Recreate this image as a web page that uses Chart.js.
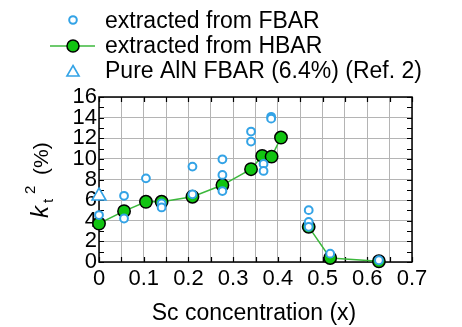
<!DOCTYPE html>
<html><head><meta charset="utf-8">
<style>html,body{margin:0;padding:0;background:#fff;}#wrap{width:462px;height:327px;}</style>
<script src="https://cdn.jsdelivr.net/npm/chart.js@4/dist/chart.umd.min.js"></script>
</head><body><div id="wrap"><canvas id="c" width="462" height="327"></canvas></div>
<script>
// ---- data ----
const fbarX = [0, 0.056, 0.056, 0.105, 0.14, 0.14, 0.209, 0.209, 0.276, 0.276, 0.276, 0.34, 0.34, 0.368, 0.368, 0.385, 0.385, 0.469, 0.469, 0.469, 0.517, 0.626];
const fbarY = [4.55, 6.42, 4.22, 8.11, 5.68, 5.29, 9.25, 6.56, 9.96, 8.44, 6.88, 12.65, 11.68, 9.51, 8.83, 14.08, 13.9, 5.03, 3.89, 3.41, 0.81, 0.17];
const hbarX = [0, 0.056, 0.105, 0.14, 0.209, 0.276, 0.34, 0.365, 0.386, 0.407, 0.44, 0.469, 0.517, 0.626];
const hbarY = [3.73, 4.93, 5.84, 5.84, 6.33, 7.46, 9.0, 10.29, 10.22, 12.07, null, 3.41, 0.39, 0.07];
const refX = [0];
const refY = [6.4];
const xTickLabels = ['0', '0.1', '0.2', '0.3', '0.4', '0.5', '0.6', '0.7'];
const yTickLabels = ['0', '2', '4', '6', '8', '10', '12', '14', '16'];
const legendLabels = ['extracted from FBAR', 'extracted from HBAR', 'Pure AlN FBAR (6.4%) (Ref. 2)'];
const xTitle = 'Sc concentration (x)';

const BLUE = '#33a3e6', GREEN = '#11c411', LINEG = '#3cb83c';
const FONT = '"Liberation Sans", Arial, sans-serif';

const pts = (xs, ys) => xs.map((x, i) => ({x: x, y: ys[i]}));

const deco = {
  id: 'deco',
  beforeDatasetsDraw(chart) {
    const ctx = chart.ctx, ca = chart.chartArea, xs = chart.scales.x, ys = chart.scales.y;
    ctx.save();
    ctx.strokeStyle = '#000';
    ctx.lineWidth = 1.2;
    ctx.beginPath();
    for (let i = 0; i <= 14; i++) {
      const px = Math.round(xs.getPixelForValue(i * 0.05)) + 0.5;
      ctx.moveTo(px, ca.bottom); ctx.lineTo(px, ca.bottom - 5);
      ctx.moveTo(px, ca.top); ctx.lineTo(px, ca.top + 5);
    }
    for (let j = 0; j <= 16; j++) {
      const py = Math.round(ys.getPixelForValue(j)) + 0.5;
      ctx.moveTo(ca.left, py); ctx.lineTo(ca.left + 5, py);
      ctx.moveTo(ca.right, py); ctx.lineTo(ca.right - 5, py);
    }
    ctx.stroke();
    ctx.lineWidth = 1.5;
    ctx.strokeRect(ca.left, ca.top, ca.right - ca.left, ca.bottom - ca.top);
    ctx.restore();
  },
  afterDraw(chart) {
    const ctx = chart.ctx;
    ctx.save();
    // legend
    const sx = 73, tx = 105, rows = [20, 46, 71], bases = [28, 53, 78];
    ctx.fillStyle = '#000';
    ctx.font = '23px ' + FONT;
    ctx.textBaseline = 'alphabetic';
    ctx.textAlign = 'left';
    legendLabels.forEach((t, i) => ctx.fillText(t, tx, bases[i]));
    // symbol 1
    ctx.lineWidth = 2; ctx.strokeStyle = BLUE; ctx.fillStyle = '#fff';
    ctx.beginPath(); ctx.arc(sx, rows[0], 3.8, 0, Math.PI * 2); ctx.fill(); ctx.stroke();
    // symbol 2
    ctx.strokeStyle = LINEG; ctx.lineWidth = 1.5;
    ctx.beginPath(); ctx.moveTo(50, rows[1]); ctx.lineTo(95, rows[1]); ctx.stroke();
    ctx.fillStyle = GREEN; ctx.strokeStyle = '#000'; ctx.lineWidth = 1.5;
    ctx.beginPath(); ctx.arc(sx, rows[1], 6, 0, Math.PI * 2); ctx.fill(); ctx.stroke();
    // symbol 3
    ctx.strokeStyle = BLUE; ctx.lineWidth = 1.6; ctx.fillStyle = '#fff';
    const r = 7, cy = rows[2] + 1.5;
    ctx.beginPath();
    ctx.moveTo(sx, cy - r);
    ctx.lineTo(sx + r * 0.866, cy + r * 0.5);
    ctx.lineTo(sx - r * 0.866, cy + r * 0.5);
    ctx.closePath(); ctx.fill(); ctx.stroke();
    // x title
    ctx.fillStyle = '#000';
    ctx.font = '23px ' + FONT;
    ctx.textAlign = 'center';
    ctx.fillText(xTitle, 254, 320);
    // y title (rotated)
    ctx.translate(48, 0);
    ctx.rotate(-Math.PI / 2);
    ctx.textAlign = 'left';
    ctx.font = 'italic 24px ' + FONT;
    ctx.fillText('k', -218, 0);
    ctx.font = '15px ' + FONT;
    ctx.fillText('t', -203, 5);
    ctx.fillText('2', -194, -13);
    ctx.font = '21px ' + FONT;
    ctx.fillText('(%)', -175, 0);
    ctx.restore();
  }
};

const chart = new Chart(document.getElementById('c'), {
  type: 'scatter',
  data: {
    datasets: [
      {
        label: legendLabels[0],
        data: pts(fbarX, fbarY),
        showLine: false,
        pointStyle: 'circle',
        pointRadius: 3.9,
        pointBorderWidth: 2,
        pointBorderColor: BLUE,
        pointBackgroundColor: '#fff',
        clip: false
      },
      {
        label: legendLabels[2],
        data: pts(refX, refY),
        showLine: false,
        pointStyle: 'triangle',
        pointRadius: 8,
        pointBorderWidth: 1.6,
        pointBorderColor: BLUE,
        pointBackgroundColor: '#fff',
        clip: false
      },
      {
        label: legendLabels[1],
        data: pts(hbarX, hbarY),
        showLine: true,
        spanGaps: false,
        borderColor: LINEG,
        borderWidth: 1.5,
        pointStyle: 'circle',
        pointRadius: 6.2,
        pointBorderWidth: 1.5,
        pointBorderColor: '#000',
        pointBackgroundColor: GREEN,
        clip: false
      }
    ]
  },
  options: {
    responsive: false,
    animation: false,
    devicePixelRatio: 1,
    layout: { padding: { left: 0, top: 97, right: 50, bottom: 0 } },
    plugins: { legend: { display: false }, tooltip: { enabled: false } },
    scales: {
      x: {
        type: 'linear', min: 0, max: 0.7,
        afterFit: (s) => { s.height = 65; },
        grid: { color: '#b4b4b4', lineWidth: 1, drawTicks: false },
        border: { display: false },
        ticks: {
          stepSize: 0.05, autoSkip: false, maxRotation: 0, minRotation: 0, padding: 4,
          color: '#000', font: { family: FONT, size: 22 },
          callback: (v) => { const i = Math.round(v * 20); return i % 2 ? '' : xTickLabels[i / 2]; }
        }
      },
      y: {
        type: 'linear', min: 0, max: 16,
        afterFit: (s) => { s.width = 99; },
        grid: { color: '#b4b4b4', lineWidth: 1, drawTicks: false },
        border: { display: false },
        ticks: {
          stepSize: 2, padding: 2, autoSkip: false,
          color: '#000', font: { family: FONT, size: 22 },
          callback: (v) => yTickLabels[Math.round(v / 2)]
        }
      }
    }
  },
  plugins: [deco]
});
</script></body></html>
